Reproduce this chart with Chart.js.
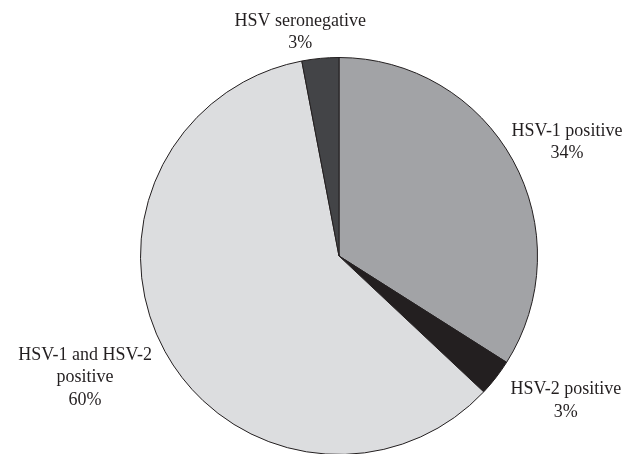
<!DOCTYPE html>
<html>
<head>
<meta charset="utf-8">
<script src="https://cdn.jsdelivr.net/npm/chart.js@4"></script>
<style>
  html, body { margin: 0; padding: 0; background: #fff; overflow: hidden; }
  #wrap { width: 629px; height: 454px; overflow: hidden; }
</style>
</head>
<body>
<div id="wrap"><canvas id="pie" width="629" height="460"></canvas></div>
<script>
// --- Data ---
const categories = ['HSV-1 positive', 'HSV-2 positive', 'HSV-1 and HSV-2 positive', 'HSV seronegative'];
const values = [34, 3, 60, 3];
const sliceColors = ['#a2a3a6', '#231f20', '#dcdddf', '#434447'];

// label text split over lines, and where each block sits relative to its slice edge
const labelLines = [
    ['HSV-1 positive', '34%'],
    ['HSV-2 positive', '3%'],
    ['HSV-1 and HSV-2', 'positive', '60%'],
    ['HSV seronegative', '3%']
];
const labelShift = [[54, -18], [70, 23], [-80, 26], [-20, -26]];

// --- Outside labels ---
const outsideLabels = {
    id: 'outsideLabels',
    afterDatasetsDraw(chart) {
        const ctx = chart.ctx;
        const meta = chart.getDatasetMeta(0);
        ctx.save();
        ctx.font = '18px "Liberation Serif", "Times New Roman", serif';
        ctx.fillStyle = '#231f20';
        ctx.textAlign = 'center';
        ctx.textBaseline = 'middle';
        const lh = 22.5;
        meta.data.forEach((arc, i) => {
            const p = arc.getProps(['x', 'y', 'startAngle', 'endAngle', 'outerRadius'], true);
            const mid = (p.startAngle + p.endAngle) / 2;
            const ex = p.x + Math.cos(mid) * p.outerRadius;
            const ey = p.y + Math.sin(mid) * p.outerRadius;
            const cx = ex + labelShift[i][0];
            const cy = ey + labelShift[i][1];
            const lines = labelLines[i];
            lines.forEach((t, k) => {
                ctx.fillText(t, cx, cy + (k - (lines.length - 1) / 2) * lh);
            });
        });
        ctx.restore();
    }
};

new Chart(document.getElementById('pie').getContext('2d'), {
    type: 'pie',
    data: {
        labels: categories,
        datasets: [{
            data: values,
            backgroundColor: sliceColors,
            borderColor: '#231f20',
            borderWidth: 1
        }]
    },
    options: {
        responsive: false,
        animation: false,
        layout: { padding: { left: 140, right: 91, top: 57, bottom: 5 } },
        plugins: {
            legend: { display: false },
            tooltip: { enabled: false }
        }
    },
    plugins: [outsideLabels]
});
</script>
</body>
</html>
